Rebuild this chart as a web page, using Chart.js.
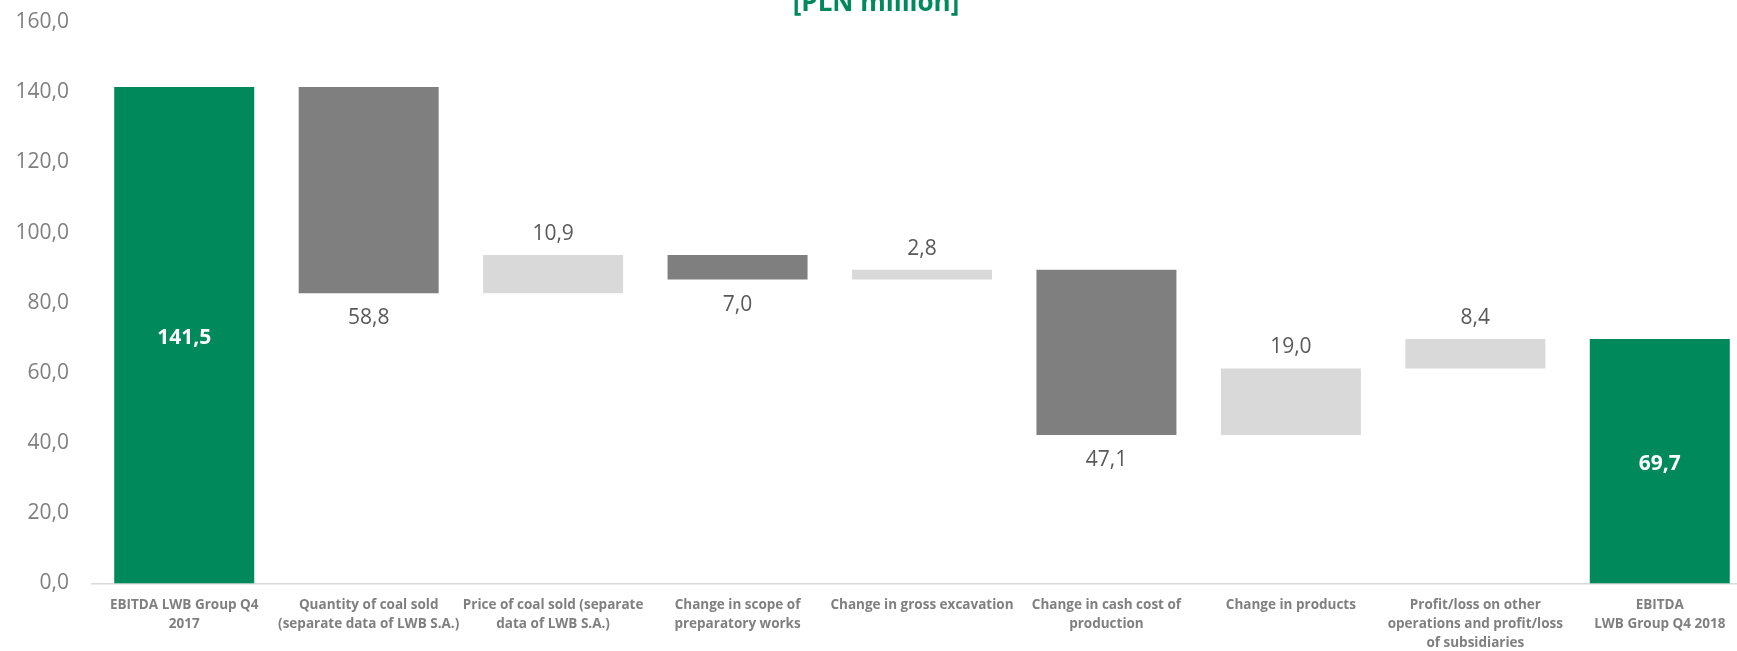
<!DOCTYPE html>
<html>
<head>
<meta charset="utf-8">
<script src="https://cdn.jsdelivr.net/npm/chart.js@4.4.1/dist/chart.umd.min.js"></script>
<style>
  html, body { margin: 0; padding: 0; background: #ffffff; overflow: hidden; width: 1737px; height: 651px; }
  #wrap { position: absolute; left: 0; top: -30px; width: 1760px; height: 700px; }
</style>
</head>
<body>
<div id="wrap"><canvas id="c"></canvas></div>
<script>
// ---- data ----
const categories = [
  ["EBITDA LWB Group Q4", "2017"],
  ["Quantity of coal sold", "(separate data of LWB S.A.)"],
  ["Price of coal sold (separate", "data of LWB S.A.)"],
  ["Change in scope of", "preparatory works"],
  ["Change in gross excavation"],
  ["Change in cash cost of", "production"],
  ["Change in products"],
  ["Profit/loss on other", "operations and profit/loss", "of subsidiaries"],
  ["EBITDA", "LWB Group Q4 2018"]
];
const startTotal = 141.5;
const changes = [-58.8, 10.9, -7.0, 2.8, -47.1, 19.0, 8.4];
const endTotal = 69.7;
const yMin = 0, yMax = 160, yStep = 20;
const titleText = "[PLN million]";

// ---- styles ----
const GREEN = "#00895A";
const DARK = "#7F7F7F";
const LIGHT = "#D9D9D9";
const AXIS_TEXT = "#7F7F7F";
const LABEL_TEXT = "#595959";
const NUM_FONT = "'Open Sans', 'Noto Sans', sans-serif";
const CAT_FONT = "'Liberation Sans Narrow', 'Open Sans', sans-serif";

// build floating bars
const ranges = [];
const kinds = [];
const values = [];
ranges.push([0, startTotal]); kinds.push("total"); values.push(startTotal);
let run = startTotal;
changes.forEach(d => {
  const next = run + d;
  ranges.push([Math.min(run, next), Math.max(run, next)]);
  kinds.push(d < 0 ? "down" : "up");
  values.push(Math.abs(d));
  run = next;
});
ranges.push([0, endTotal]); kinds.push("total"); values.push(endTotal);

const colors = kinds.map(k => k === "total" ? GREEN : (k === "down" ? DARK : LIGHT));
const fmt = v => v.toFixed(1).replace(".", ",");

const labelPlugin = {
  id: "wfLabels",
  afterDatasetsDraw(chart) {
    const ctx = chart.ctx;
    const meta = chart.getDatasetMeta(0);
    ctx.save();
    ctx.textAlign = "center";
    ctx.textBaseline = "middle";
    meta.data.forEach((el, i) => {
      const top = Math.min(el.y, el.base);
      const bot = Math.max(el.y, el.base);
      const txt = fmt(values[i]);
      if (kinds[i] === "total") {
        ctx.fillStyle = "#FFFFFF";
        ctx.font = "bold 21px " + NUM_FONT;
        ctx.fillText(txt, el.x, (top + bot) / 2 + 3);
      } else if (kinds[i] === "down") {
        ctx.fillStyle = LABEL_TEXT;
        ctx.font = "21px " + NUM_FONT;
        ctx.fillText(txt, el.x, bot + 25);
      } else {
        ctx.fillStyle = LABEL_TEXT;
        ctx.font = "21px " + NUM_FONT;
        ctx.fillText(txt, el.x, top - 21);
      }
    });
    ctx.restore();
  }
};

new Chart(document.getElementById("c"), {
  type: "bar",
  data: {
    labels: categories,
    datasets: [{
      data: ranges,
      backgroundColor: colors,
      borderWidth: 0,
      categoryPercentage: 1.0,
      barPercentage: 0.759
    }]
  },
  options: {
    responsive: true,
    maintainAspectRatio: false,
    animation: false,
    layout: { padding: { left: 0, right: 8, top: 0, bottom: 0 } },
    plugins: {
      legend: { display: false },
      tooltip: { enabled: false },
      title: {
        display: true,
        text: titleText,
        color: GREEN,
        font: { family: NUM_FONT, size: 26, weight: "bold", lineHeight: 1.2 },
        padding: { top: 18.4, bottom: 2.4 }
      }
    },
    scales: {
      x: {
        grid: { display: false, drawTicks: false },
        border: { display: true, color: LIGHT, width: 1.5 },
        ticks: {
          autoSkip: false,
          maxRotation: 0,
          minRotation: 0,
          padding: 12,
          color: AXIS_TEXT,
          font: { family: CAT_FONT, size: 13.5, weight: "bold", lineHeight: 1.4 }
        },
        afterFit(scale) { scale.height = 86.5; }
      },
      y: {
        min: yMin,
        max: yMax,
        grid: { display: false, drawTicks: false },
        border: { display: false },
        ticks: {
          stepSize: yStep,
          padding: 23,
          color: AXIS_TEXT,
          font: { family: NUM_FONT, size: 21 },
          callback: v => fmt(v)
        },
        afterFit(scale) { scale.width = 92; }
      }
    }
  },
  plugins: [labelPlugin]
});
</script>
</body>
</html>
